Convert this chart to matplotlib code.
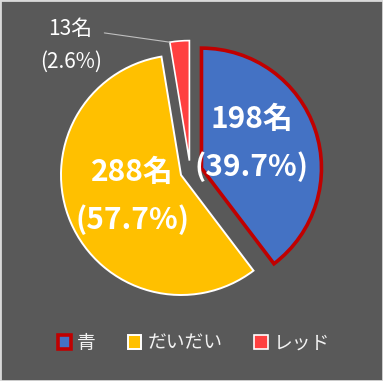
import numpy as np
import matplotlib
matplotlib.use('Agg')
import matplotlib.pyplot as plt
from matplotlib.patches import Rectangle

plt.rcParams['font.family'] = ['Noto Sans CJK JP', 'DejaVu Sans']

# data
categories = ['青', 'だいだい', 'レッド']
counts = [198, 288, 13]
percents = [39.7, 57.7, 2.6]

colors = ['#4472C4', '#FFC000', '#FF4040']
edge_colors = ['#C00000', 'white', 'white']
edge_widths = [2.6, 1.4, 1.2]
explode = [0.18, 0.0, 0.0]
red_shift = (0.07, 0.12)   # Excel pushes the tiny slice up-right

W, H = 383, 381
fig = plt.figure(figsize=(W / 100, H / 100), dpi=100, facecolor='#595959')

# pie centre at (181, 175) px from top-left, radius 125 px
cx, cy, R = 181, 175, 125
half = 150
ax = fig.add_axes([(cx - half) / W, (H - cy - half) / H, 2 * half / W, 2 * half / H])
ax.set_facecolor('none')
L = half / R
ax.set_xlim(-L, L)
ax.set_ylim(-L, L)
ax.axis('off')

wedges, _ = ax.pie(counts, colors=colors, startangle=90, counterclock=False,
                   explode=explode, radius=1.0)
for w, ec, lw in zip(wedges, edge_colors, edge_widths):
    w.set_edgecolor(ec)
    w.set_linewidth(lw)
    w.set_joinstyle('miter')

red = wedges[2]
c0 = red.center
red.set_center((c0[0] + red_shift[0], c0[1] + red_shift[1]))

# inside labels (distance along bisector, small nudge)
for i, dist, nudge in [(0, 0.46, (-0.02, 0.06)), (1, 0.44, (0.0, 0.0))]:
    w = wedges[i]
    mid = np.deg2rad((w.theta1 + w.theta2) / 2)
    x = w.center[0] + dist * np.cos(mid) + nudge[0]
    y = w.center[1] + dist * np.sin(mid) + nudge[1]
    ax.text(x, y, f'{counts[i]}名\n({percents[i]}%)', ha='center', va='center',
            color='white', fontsize=21.5, fontweight='bold', linespacing=1.7)

# outside label for the small slice
tip_ang = np.deg2rad(max(red.theta1, red.theta2))
tip = (red.center[0] + red.r * np.cos(tip_ang), red.center[1] + red.r * np.sin(tip_ang))
ax.annotate(f'{counts[2]}名\n({percents[2]}%)', xy=tip, xytext=(-0.92, 1.08),
            ha='center', va='center', color='white', fontsize=15, linespacing=1.65,
            annotation_clip=False,
            arrowprops=dict(arrowstyle='-', color='#BFBFBF', lw=0.8,
                            relpos=(0.9, 0.75), shrinkA=0, shrinkB=0))

leg = fig.legend(wedges, categories, loc='center', bbox_to_anchor=(194 / W, (H - 343) / H),
                 ncol=3, frameon=False, fontsize=13.5, labelcolor='#F2F2F2',
                 handlelength=0.7, handleheight=0.7, handletextpad=0.35,
                 columnspacing=1.7)

fig.patches.append(Rectangle((0, 0), 1, 1, transform=fig.transFigure, fill=False,
                             edgecolor='#D9D9D9', lw=2))

fig.savefig('out.png', dpi=100, facecolor=fig.get_facecolor())
